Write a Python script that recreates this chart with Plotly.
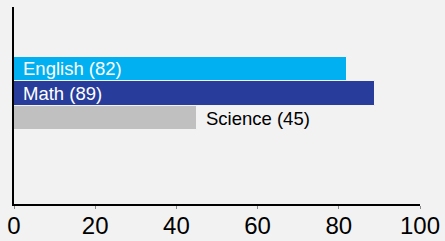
import plotly.graph_objects as go

subjects = ["English", "Math", "Science"]
scores = [82, 89, 45]
colors = ["#00b0f0", "#283d9b", "#c0c0c0"]
x_ticks = [0, 20, 40, 60, 80, 100]

fig = go.Figure()
fig.add_trace(go.Bar(
    y=subjects, x=scores, orientation="h",
    marker=dict(color=colors, line=dict(color="#f2f2f2", width=1)),
    hoverinfo="skip",
))

annotations = []
for s, v in zip(subjects, scores):
    inside = v > 60
    annotations.append(dict(
        x=0 if inside else v, y=s, xref="x", yref="y",
        text=f"{s} ({v})", showarrow=False, xanchor="left", yanchor="middle",
        xshift=7, font=dict(family="Liberation Sans, Arial, sans-serif", size=18.5,
                            color="white" if inside else "black"),
    ))

fig.update_layout(
    width=445, height=241,
    margin=dict(l=14, r=25, t=7, b=37, autoexpand=False),
    paper_bgcolor="#f2f2f2", plot_bgcolor="#f2f2f2",
    bargap=0, showlegend=False,
    annotations=annotations,
    font=dict(family="Liberation Sans, Arial, sans-serif", color="black"),
)
fig.update_xaxes(
    range=[0, 100], tickvals=x_ticks, showgrid=False, zeroline=False,
    showline=True, linecolor="black", linewidth=2, automargin=False,
    ticks="outside", ticklen=3, tickcolor="#888888", tickwidth=1,
    ticklabelstandoff=-4,
    tickfont=dict(size=24, color="black"),
)
fig.update_yaxes(
    type="category", categoryarray=subjects, range=[5.51, -2.53],
    showticklabels=False, showgrid=False, zeroline=False, automargin=False,
    showline=True, linecolor="black", linewidth=2, ticks="",
)
fig.write_html(
    "out.html",
    config={"displayModeBar": False},
    post_script="document.body.style.margin='0';document.body.style.background='#f2f2f2';document.body.style.overflow='hidden';",
)
